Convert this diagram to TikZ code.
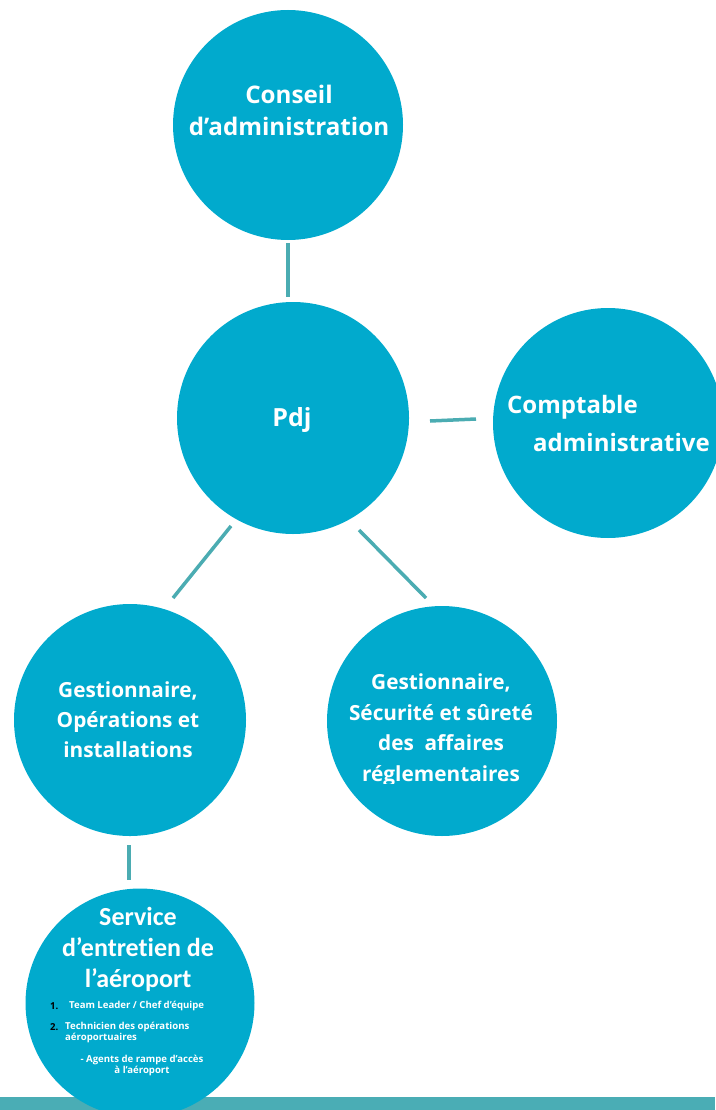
\documentclass[tikz,border=0pt]{standalone}
\usepackage{fontspec}
\setmainfont{Open Sans}
\newfontfamily\calib[Ligatures=NoCommon]{Carlito}
\definecolor{circ}{RGB}{1,170,205}
\definecolor{link}{RGB}{75,172,178}
\definecolor{barc}{RGB}{74,173,181}
\tikzset{
  bubble/.style={circle, fill=circ, draw=none, inner sep=0pt, minimum size=#1},
  linkline/.style={draw=link, line width=3.5pt},
  txt/.style={text=white, inner sep=0pt, align=center},
  small/.style={text=white, font=\bfseries\fontsize{9.6}{11}\selectfont, inner sep=0pt, anchor=west},
}
\begin{document}
\begin{tikzpicture}[x=1pt,y=-1pt]
\useasboundingbox (0,0) rectangle (715,1110);
% bottom bar
\node[fill=barc, minimum width=715pt, minimum height=13pt, inner sep=0pt, anchor=north west] (bar) at (0,1097) {};
% circles
\node[bubble=230pt] (conseil) at (288,125) {};
\node[bubble=232pt] (pdj) at (293,418) {};
\node[bubble=230pt] (compt) at (608,423) {};
\node[bubble=232pt] (gop) at (130,720) {};
\node[bubble=230pt] (gsec) at (442,721) {};
\node[bubble=229pt] (serv) at (140,1003) {};
% connector end points
\coordinate (c1a) at (288,243); \coordinate (c1b) at (288,297);
\coordinate (c2a) at (430,421); \coordinate (c2b) at (476,419);
\coordinate (c3a) at (231,526); \coordinate (c3b) at (173,598);
\coordinate (c4a) at (359,530); \coordinate (c4b) at (426,598);
\coordinate (c5a) at (129,845); \coordinate (c5b) at (129,880);
\draw[linkline] (c1a) -- (c1b);
\draw[linkline] (c2a) -- (c2b);
\draw[linkline] (c3a) -- (c3b);
\draw[linkline] (c4a) -- (c4b);
\draw[linkline] (c5a) -- (c5b);
% texts
\node[txt, font=\bfseries\fontsize{24.2}{32}\selectfont] (tconseil) at (289,110) {Conseil\\d’administration};
\node[txt, font=\bfseries\fontsize{25}{30}\selectfont] (tpdj) at (292,420) {Pdj};
\node[txt, font=\bfseries\fontsize{24}{34}\selectfont, anchor=west] (tcomp1) at (507,407) {Comptable};
\node[txt, font=\bfseries\fontsize{24}{34}\selectfont, anchor=west] (tcomp2) at (533,442) {administrative};
\node[txt, font=\bfseries\fontsize{20.8}{30}\selectfont] (tgop) at (128,720) {Gestionnaire,\\Opérations et\\installations};
\begin{scope}
\clip (320,600) rectangle (560,783);
\node[txt, font=\bfseries\fontsize{20.8}{30.5}\selectfont] (tgsec) at (441,730) {Gestionnaire,\\Sécurité et sûreté\\des\ \ affaires\\réglementaires};
\end{scope}
\node[txt, font=\calib\bfseries\fontsize{26}{31}\selectfont] (tserv) at (138,949) {Service\\d’entretien de\\l’aéroport};
\node[small, text=black] (n1) at (50,1006) {1.};
\node[small] (l1) at (69,1006) {Team Leader / Chef d’équipe};
\node[small, text=black] (n2) at (50,1027) {2.};
\node[small, align=left] (l2) at (65,1032.5) {Technicien des opérations\\aéroportuaires};
\node[small, anchor=center, align=center] (l3) at (142,1065.5) {- Agents de rampe d’accès\\à l’aéroport};
\end{tikzpicture}
\end{document}
